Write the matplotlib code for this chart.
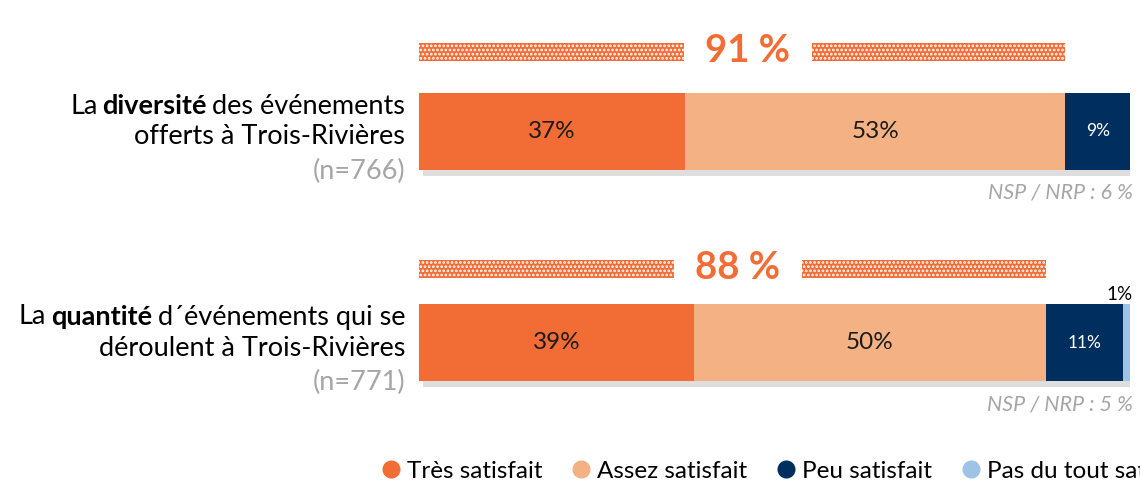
import matplotlib.pyplot as plt
from matplotlib import patheffects, transforms
from matplotlib.lines import Line2D

plt.rcParams["font.family"] = ["Lato", "DejaVu Sans"]
plt.rcParams["hatch.linewidth"] = 1.3

# Satisfaction par énoncé
themes = ["diversité", "quantité"]
prefixes = ["La", "La"]
suffixes = ["des événements", "d´événements qui se"]
second_lines = ["offerts à Trois-Rivières", "déroulent à Trois-Rivières"]
sample_sizes = [766, 771]
tres_satisfait = [37, 39]
assez_satisfait = [53, 50]
peu_satisfait = [9, 11]
pas_du_tout = [0, 1]
total_satisfait = [91, 88]
nsp_nrp = [6, 5]

categories = ["Très satisfait", "Assez satisfait", "Peu satisfait", "Pas du tout satisfait"]
colors = ["#F26C35", "#F4B183", "#002F5F", "#9DC3E6"]
label_colors = ["#1a1a1a", "#1a1a1a", "white", "black"]
label_sizes = [17.5, 17.5, 12.5, 12.5]

ORANGE = "#F26C35"
GREY = "#A6A6A6"
FS = 19.5

W, H = 1140, 482
fig = plt.figure(figsize=(W / 100, H / 100), dpi=100)
ax = fig.add_axes([419 / W, 0, 711 / W, 1])
ax.set_xlim(0, 100)
ax.set_ylim(H, 0)  # y en pixels depuis le haut
ax.axis("off")

bar_tops = [93, 304]
bar_h = 77
hatch_tops = [43, 260]
hatch_h = 18
label_x = 405 / W
left = transforms.blended_transform_factory(fig.transFigure, ax.transData)
renderer = fig.canvas.get_renderer()

shadow = [patheffects.SimplePatchShadow(offset=(3, -4), shadow_rgbFace="#8a8a8a", alpha=0.28),
          patheffects.Normal()]

for i in range(len(themes)):
    values = [tres_satisfait[i], assez_satisfait[i], peu_satisfait[i], pas_du_tout[i]]
    total = sum(values)
    top = bar_tops[i]
    start = 0
    for j, v in enumerate(values):
        if v == 0:
            continue
        w = v / total * 100
        ax.barh(top + bar_h / 2, w, height=bar_h, left=start, color=colors[j],
                linewidth=0, path_effects=shadow)
        if v >= 5:
            ax.text(start + w / 2, top + bar_h / 2, f"{v}%", ha="center", va="center",
                    fontsize=label_sizes[j], color=label_colors[j])
        else:
            ax.text(100.4, top - 9, f"{v}%", ha="right", va="center", fontsize=13.5,
                    color="black", clip_on=False)
        start += w

    # Bandeau hachuré du total satisfait
    sat_end = (tres_satisfait[i] + assez_satisfait[i]) / total * 100
    mid = sat_end / 2 + 0.8
    gap = 9.0
    yc = hatch_tops[i] + hatch_h / 2
    ax.barh(yc, mid - gap, left=0, height=hatch_h, facecolor=ORANGE,
            edgecolor="white", linewidth=0, hatch="....")
    ax.barh(yc, sat_end - (mid + gap), left=mid + gap, height=hatch_h, facecolor=ORANGE,
            edgecolor="white", linewidth=0, hatch="....")
    ax.text(mid, yc - 1, f"{total_satisfait[i]} %", ha="center", va="center",
            fontsize=27.5, fontweight="bold", color=ORANGE)

    # NSP / NRP sous la barre
    ax.text(100.4, top + bar_h + 23, f"NSP / NRP : {nsp_nrp[i]} %", ha="right", va="center",
            fontsize=15.5, style="italic", color=GREY, clip_on=False)

    # Libellé à gauche avec le mot clé en gras
    y1 = top + 13
    t = ax.text(label_x, y1, suffixes[i], ha="right", va="center", fontsize=FS, transform=left)
    x = label_x - t.get_window_extent(renderer).width / W - 5 / W
    t = ax.text(x, y1, themes[i], ha="right", va="center", fontsize=FS, fontweight="bold",
                transform=left)
    x -= t.get_window_extent(renderer).width / W + 5 / W
    ax.text(x, y1, prefixes[i], ha="right", va="center", fontsize=FS, transform=left)
    ax.text(label_x, top + 44, second_lines[i], ha="right", va="center", fontsize=FS,
            transform=left)
    ax.text(label_x, top + 78, f"(n={sample_sizes[i]})", ha="right", va="center",
            fontsize=FS, color=GREY, transform=left)

handles = [Line2D([], [], marker="o", linestyle="none", markersize=12, color=c) for c in colors]
fig.legend(handles, categories, loc="center left", bbox_to_anchor=(384 / W, 1 - 471 / H),
           ncol=4, frameon=False, fontsize=17.5, handlelength=0.6, handletextpad=0.35,
           columnspacing=1.3, borderaxespad=0, borderpad=0)

fig.savefig("out.png", dpi=100)
